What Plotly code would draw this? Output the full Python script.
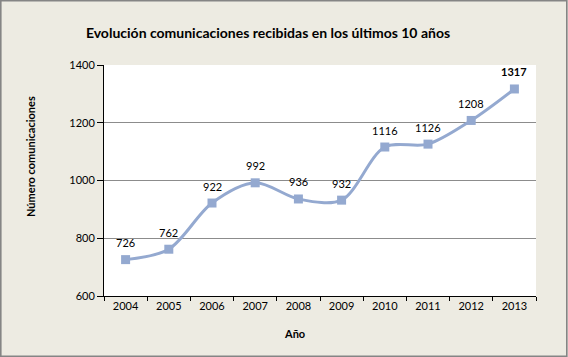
import plotly.graph_objects as go

years = ["2004", "2005", "2006", "2007", "2008", "2009", "2010", "2011", "2012", "2013"]
values = [726, 762, 922, 992, 936, 932, 1116, 1126, 1208, 1317]
labels = [str(v) for v in values[:-1]] + ["<b>" + str(values[-1]) + "</b>"]
y_ticks = [600, 800, 1000, 1200, 1400]

FONT = "Lato, Carlito, 'Liberation Sans', sans-serif"
color = "#94A9D0"

fig = go.Figure()
fig.add_trace(go.Scatter(
    x=years, y=values, mode="lines+markers",
    line=dict(color=color, width=3, shape="spline", smoothing=0.9),
    marker=dict(symbol="square", size=9, color=color),
    cliponaxis=False, showlegend=False, hoverinfo="x+y",
))

L, R, T, B = 104, 536, 65, 296
W, H = 568, 357
pw, ph = R - L, B - T
def px(x): return (x - L) / pw
def py(y): return (B - y) / ph

# data labels: x given as category index on the category axis
annotations = [dict(x=i, y=v, xref="x", yref="y", text=t, showarrow=False, yshift=17,
                    font=dict(family=FONT, size=11, color="#000000"))
               for i, (v, t) in enumerate(zip(values, labels))]
annotations.append(dict(xref="paper", yref="paper", x=px(294), y=py(333),
                        text="<b>Año</b>", showarrow=False, xanchor="center", yanchor="middle",
                        font=dict(family=FONT, size=11, color="#000000")))
annotations.append(dict(xref="paper", yref="paper", x=px(30), y=py(157),
                        text="<b>Número comunicaciones</b>", textangle=-90, showarrow=False,
                        xanchor="center", yanchor="middle",
                        font=dict(family=FONT, size=11, color="#000000")))

fig.update_layout(
    width=W, height=H,
    margin=dict(l=L, r=W - R, t=T, b=H - B),
    paper_bgcolor="#EDEBE2", plot_bgcolor="#FFFFFF",
    font=dict(family=FONT, size=11, color="#000000"),
    title=dict(text="<b>Evolución comunicaciones recibidas en los últimos 10 años</b>",
               x=268 / W, xanchor="center", y=1 - 33 / H, yanchor="middle",
               font=dict(family=FONT, size=14, color="#000000")),
    xaxis=dict(type="category", categoryorder="array", categoryarray=years,
               range=[-0.5, len(years) - 0.5],
               showline=True, linecolor="#000000", linewidth=1,
               ticks="outside", tickson="boundaries", ticklen=4, tickcolor="#000000",
               showgrid=False, tickfont=dict(size=11)),
    yaxis=dict(range=[600, 1400], tickvals=y_ticks, showline=True, linecolor="#000000",
               linewidth=1, ticks="outside", ticklen=6, tickcolor="#000000",
               showgrid=True, gridcolor="#8C8C8C", gridwidth=1, zeroline=False,
               tickfont=dict(size=11)),
    annotations=annotations,
    shapes=[dict(type="rect", xref="paper", yref="paper",
                 x0=px(0.8), x1=px(566.8), y0=py(356.2), y1=py(0.8),
                 line=dict(color="#858585", width=1.6), layer="below")],
)

fig.write_html("out.html", config={"displayModeBar": False},
               post_script="document.body.style.margin='0';document.body.style.padding='0';")
